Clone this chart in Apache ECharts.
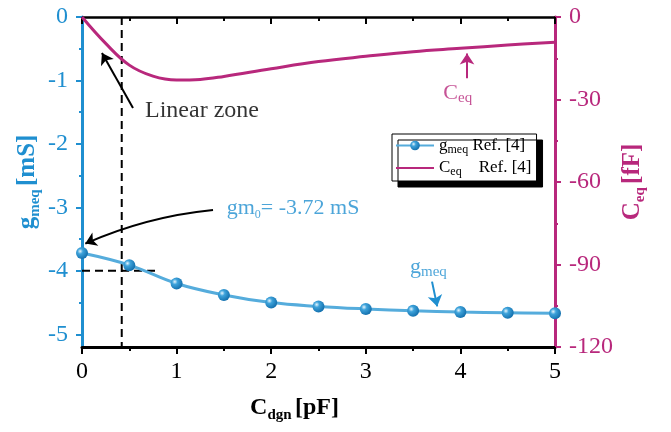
<!DOCTYPE html>
<html>
<head>
<meta charset="utf-8">
<script src="https://cdn.jsdelivr.net/npm/echarts@6/dist/echarts.min.js"></script>
<style>html,body{margin:0;padding:0;background:#fff;}#c{width:671px;height:432px;}</style>
</head>
<body>
<div id="c"></div>
<script>
// ---- data ----
const gmX = [0, 0.5, 1, 1.5, 2, 2.5, 3, 3.5, 4, 4.5, 5];
const gmeq = [-3.72, -3.91, -4.20, -4.38, -4.50, -4.56, -4.60, -4.63, -4.65, -4.66, -4.67];
const ceqX = [0, 0.25, 0.5, 0.75, 1, 1.25, 1.5, 2, 2.5, 3, 3.5, 4, 4.5, 5];
const ceq = [0, -9.6, -17.5, -21.5, -22.9, -22.7, -21.6, -18.8, -16.2, -14.3, -12.6, -11.4, -10.2, -9.2];
const leftTicks = [-5, -4, -3, -2, -1, 0];
const leftMinor = [-4.5, -3.5, -2.5, -1.5, -0.5];
const xLinear = 0.42;     // dashed vertical line position
const gm0Level = -4;      // dashed horizontal line level
const gm0Text = '-3.72 mS';

const BLUE = '#1f8fd0';
const LBLUE = '#55acdc';
const MAG = '#b8287c';
const SERIF = '"Liberation Serif","Times New Roman",serif';

const chart = echarts.init(document.getElementById('c'), null, {renderer: 'canvas'});

const sphere = new echarts.graphic.RadialGradient(0.35, 0.35, 0.65, [
  {offset: 0, color: '#e6f5fd'},
  {offset: 0.35, color: '#3ea3db'},
  {offset: 1, color: '#1673b0'}
]);

const arrow = (a, b, color, curve) => ({
  coords: [a, b],
  lineStyle: {color: color, width: 2, type: 'solid', curveness: curve || 0}
});

const option = {
  animation: false,
  backgroundColor: '#fff',
  grid: {left: 82, right: 116, top: 17, bottom: 85},
  legend: {
    data: ['gmeq', {name: 'Ceq', itemStyle: {opacity: 0}}],
    orient: 'vertical',
    left: 392, top: 134,
    padding: [3, 5, 3, 3],
    itemGap: 4,
    itemWidth: 38, itemHeight: 12,
    backgroundColor: '#fff',
    borderColor: '#000', borderWidth: 1, borderRadius: 0,
    shadowColor: '#000', shadowBlur: 0, shadowOffsetX: 6, shadowOffsetY: 6,
    formatter: function (n) {
      return n === 'gmeq' ? '{a|g}{s|meq} {a|Ref. [4]}' : '{a|C}{s|eq}    {a|Ref. [4]}';
    },
    textStyle: {
      color: '#000', fontFamily: SERIF, fontSize: 17,
      rich: {
        a: {fontFamily: SERIF, fontSize: 17, color: '#000', lineHeight: 20},
        s: {fontFamily: SERIF, fontSize: 12, color: '#000', lineHeight: 14, verticalAlign: 'bottom'}
      }
    }
  },
  xAxis: [{
    type: 'value', min: 0, max: 5, interval: 1, position: 'bottom',
    name: '{a|C}{b|dgn} {a|[pF]}', nameLocation: 'middle', nameGap: 46,
    nameTextStyle: {
      padding: [0, 48, 0, 0],
      rich: {
        a: {fontFamily: SERIF, fontSize: 24, fontWeight: 'bold', color: '#000', lineHeight: 30},
        b: {fontFamily: SERIF, fontSize: 15, fontWeight: 'bold', color: '#000', lineHeight: 16, verticalAlign: 'bottom'}
      }
    },
    axisLine: {show: true, onZero: false, lineStyle: {color: '#000', width: 3}},
    axisTick: {show: true, inside: false, length: 7, lineStyle: {color: '#000', width: 2}},
    minorTick: {show: true, splitNumber: 2, length: 4, lineStyle: {color: '#000', width: 2}},
    axisLabel: {color: '#000', fontFamily: SERIF, fontSize: 24, margin: 13},
    splitLine: {show: false}
  }, {
    type: 'value', min: 0, max: 5, interval: 1, position: 'top',
    axisLine: {show: true, onZero: false, lineStyle: {color: '#000', width: 2.5}},
    axisTick: {show: true, inside: true, length: 7, lineStyle: {color: '#000', width: 2}},
    minorTick: {show: true, splitNumber: 2, length: 4, lineStyle: {color: '#000', width: 2}},
    axisLabel: {show: false},
    splitLine: {show: false}
  }],
  yAxis: [{
    type: 'value', min: -5.2, max: 0, position: 'left',
    name: '{a|g}{b|meq} {a|[mS]}', nameLocation: 'middle', nameGap: 39, nameRotate: 90,
    nameMoveOverlap: false,
    nameTextStyle: {
      rich: {
        a: {fontFamily: SERIF, fontSize: 25, fontWeight: 'bold', color: BLUE, lineHeight: 30},
        b: {fontFamily: SERIF, fontSize: 15, fontWeight: 'bold', color: BLUE, lineHeight: 16, verticalAlign: 'bottom'}
      }
    },
    axisLine: {show: true, onZero: false, lineStyle: {color: BLUE, width: 3}},
    axisTick: {show: true, inside: false, length: 6, customValues: leftTicks, lineStyle: {color: BLUE, width: 2}},
    axisLabel: {color: BLUE, fontFamily: SERIF, fontSize: 24, margin: 14, customValues: leftTicks},
    splitLine: {show: false}
  }, {
    type: 'value', min: -120, max: 0, interval: 30, position: 'right',
    name: '{a|C}{b|eq} {a|[fF]}', nameLocation: 'middle', nameGap: 63, nameRotate: 90,
    nameMoveOverlap: false,
    nameTextStyle: {
      rich: {
        a: {fontFamily: SERIF, fontSize: 25, fontWeight: 'bold', color: MAG, lineHeight: 30},
        b: {fontFamily: SERIF, fontSize: 15, fontWeight: 'bold', color: MAG, lineHeight: 16, verticalAlign: 'bottom'}
      }
    },
    axisLine: {show: true, onZero: false, lineStyle: {color: MAG, width: 3}},
    axisTick: {show: true, inside: false, length: 6, lineStyle: {color: MAG, width: 2}},
    minorTick: {show: true, splitNumber: 2, length: 3, lineStyle: {color: MAG, width: 2}},
    axisLabel: {color: MAG, fontFamily: SERIF, fontSize: 24, margin: 14},
    splitLine: {show: false}
  }, {
    type: 'value', min: -5.2, max: 0, position: 'left', offset: 0,
    axisLine: {show: false},
    axisTick: {show: true, inside: false, length: 3, customValues: leftMinor, lineStyle: {color: BLUE, width: 2}},
    axisLabel: {show: false},
    splitLine: {show: false}
  }],
  series: [
    {
      name: 'guides', type: 'line', xAxisIndex: 0, yAxisIndex: 0, silent: true, z: 1,
      symbol: 'none',
      lineStyle: {color: '#000', width: 2, type: [8, 5]},
      data: [[xLinear, 0], [xLinear, -5.2]]
    },
    {
      name: 'guide2', type: 'line', xAxisIndex: 0, yAxisIndex: 0, silent: true, z: 1,
      symbol: 'none',
      lineStyle: {color: '#000', width: 2, type: [8, 5]},
      data: [[0, gm0Level], [0.78, gm0Level]]
    },
    {
      name: 'arrowsL', type: 'lines', coordinateSystem: 'cartesian2d', xAxisIndex: 0, yAxisIndex: 0,
      silent: true, z: 6, symbol: ['none', 'arrow'], symbolSize: 11,
      lineStyle: {width: 2, opacity: 1},
      data: [
        arrow([0.539, -1.433], [0.211, -0.567], '#000', 0),
        arrow([1.385, -3.04], [0.035, -3.57], '#000', -0.08),
        arrow([3.70, -4.17], [3.755, -4.56], BLUE, 0)
      ]
    },
    {
      name: 'arrowsR', type: 'lines', coordinateSystem: 'cartesian2d', xAxisIndex: 0, yAxisIndex: 1,
      silent: true, z: 6, symbol: ['none', 'arrow'], symbolSize: 11,
      lineStyle: {width: 2, opacity: 1},
      data: [arrow([4.07, -22.3], [4.07, -13.3], MAG, 0)]
    },
    {
      name: 'Ceq', type: 'line', xAxisIndex: 0, yAxisIndex: 1, z: 3,
      smooth: 0.4, symbol: 'none', showSymbol: false,
      itemStyle: {color: MAG},
      lineStyle: {color: MAG, width: 3},
      data: ceqX.map((x, i) => [x, ceq[i]])
    },
    {
      name: 'gmeq', type: 'line', xAxisIndex: 0, yAxisIndex: 0, z: 4,
      smooth: 0.4, symbol: 'circle', symbolSize: 12, showSymbol: true,
      itemStyle: {color: sphere, borderWidth: 0},
      lineStyle: {color: LBLUE, width: 3},
      data: gmX.map((x, i) => [x, gmeq[i]])
    },
    {
      name: 'texts', type: 'scatter', xAxisIndex: 0, yAxisIndex: 0, silent: true, z: 5,
      symbolSize: 0,
      label: {show: true, position: 'right', distance: 0},
      data: [
        {value: [0.666, -1.47], label: {formatter: 'Linear zone', color: '#000', fontFamily: SERIF, fontSize: 24}},
        {value: [1.53, -3.01], label: {
          formatter: '{a|gm}{s|0}{a|= ' + gm0Text + '}',
          rich: {
            a: {fontFamily: SERIF, fontSize: 22, color: BLUE, lineHeight: 26},
            s: {fontFamily: SERIF, fontSize: 12, color: BLUE, lineHeight: 12, verticalAlign: 'bottom'}
          }
        }},
        {value: [3.467, -3.94], label: {
          formatter: '{a|g}{s|meq}',
          rich: {
            a: {fontFamily: SERIF, fontSize: 22, color: BLUE, lineHeight: 26},
            s: {fontFamily: SERIF, fontSize: 15, color: BLUE, lineHeight: 16, verticalAlign: 'bottom'}
          }
        }}
      ]
    },
    {
      name: 'texts2', type: 'scatter', xAxisIndex: 0, yAxisIndex: 1, silent: true, z: 5,
      symbolSize: 0,
      label: {show: true, position: 'right', distance: 0},
      data: [
        {value: [3.82, -27.6], label: {
          formatter: '{a|C}{s|eq}',
          rich: {
            a: {fontFamily: SERIF, fontSize: 22, color: MAG, lineHeight: 26},
            s: {fontFamily: SERIF, fontSize: 15, color: MAG, lineHeight: 16, verticalAlign: 'bottom'}
          }
        }}
      ]
    }
  ]
};
chart.setOption(option);
</script>
</body>
</html>
